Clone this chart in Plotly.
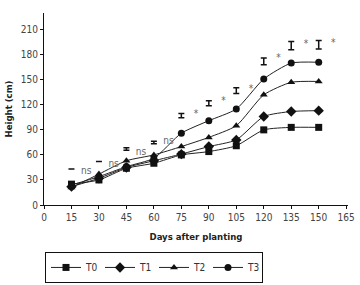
import plotly.graph_objects as go

days = [15, 30, 45, 60, 75, 90, 105, 120, 135, 150]
t0 = [25, 30, 44, 50, 60, 64, 71, 90, 93, 93]
t1 = [22, 32, 45, 53, 61, 70, 78, 106, 112, 113]
t2 = [21, 37, 53, 60, 70, 81, 95, 132, 147, 148]
t3 = [24, 34, 46, 56, 86, 101, 115, 151, 170, 171]

lsd_center = [43, 52, 67, 75, 107, 122, 137, 172, 191, 192]
lsd_half = [0, 0, 1.5, 1.5, 2.5, 3, 3.5, 4, 5, 5]
sig_y = [40, 49, 63, 76, 108, 124, 138, 175, 192, 194]
sig_labels = ["ns", "ns", "ns", "ns", "*", "*", "*", "*", "*", "*"]

x_ticks = list(range(0, 166, 15))
y_ticks = list(range(0, 211, 30))

font_fam = "DejaVu Sans Condensed, Liberation Sans Narrow, Liberation Sans"

fig = go.Figure()
series = [("T0", t0, "square"), ("T1", t1, "diamond"), ("T2", t2, "triangle-up"), ("T3", t3, "circle")]
for name, vals, sym in series:
    fig.add_trace(go.Scatter(
        x=days, y=vals, name=name, mode="lines+markers",
        line=dict(color="#222222", width=1, shape="spline", smoothing=0.6),
        marker=dict(symbol=sym, size=7 if sym != "diamond" else 8, color="#111111"),
    ))

# LSD bars
fig.add_trace(go.Scatter(
    x=days, y=lsd_center, mode="markers", showlegend=False,
    marker=dict(size=0.1, color="rgba(0,0,0,0)"),
    error_y=dict(type="data", array=lsd_half, color="#111111", thickness=1.5, width=3),
))
# significance labels
fig.add_trace(go.Scatter(
    x=[d + 8 for d in days], y=sig_y, mode="text", text=sig_labels, showlegend=False,
    textfont=dict(family=font_fam, size=10, color="#666666"),
))

fig.update_layout(
    width=360, height=285,
    margin=dict(l=44, r=12, t=13, b=80, autoexpand=False),
    paper_bgcolor="white", plot_bgcolor="white",
    font=dict(family=font_fam, size=10, color="#444444"),
    xaxis=dict(
        range=[0, 166], tickvals=x_ticks, showgrid=False, zeroline=False,
        showline=True, linecolor="#111111", linewidth=1, automargin=False,
        ticks="outside", ticklen=3, tickcolor="#111111",
        tickfont=dict(size=10, color="#444444"),
        title=dict(text="<b>Days after planting</b>", font=dict(size=9.5, color="#222222"), standoff=11),
    ),
    yaxis=dict(
        range=[0, 230], tickvals=y_ticks, showgrid=False, zeroline=False,
        showline=True, linecolor="#111111", linewidth=1, automargin=False,
        ticks="outside", ticklen=3, tickcolor="#111111",
        tickfont=dict(size=10, color="#444444"),
        title=dict(text="<b>Height (cm)</b>", font=dict(size=9.5, color="#222222"), standoff=6),
    ),
    legend=dict(
        orientation="h", xref="container", yref="container",
        x=0.125, xanchor="left", y=0.116, yanchor="top",
        bordercolor="#111111", borderwidth=1,
        font=dict(size=10, color="#333333"),
        entrywidth=9, entrywidthmode="pixels",
        tracegroupgap=0,
    ),
)

fig.write_html("out.html", post_script="document.body.style.margin='0px';",
               config={"displayModeBar": False})
